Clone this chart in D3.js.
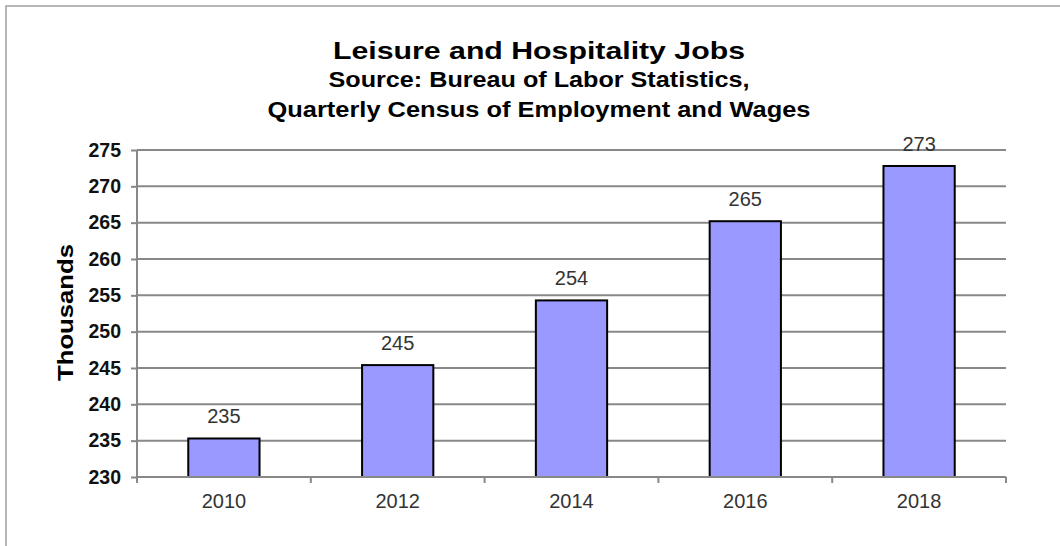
<!DOCTYPE html>
<html>
<head>
<meta charset="utf-8">
<script src="https://cdn.jsdelivr.net/npm/d3@7"></script>
<style>
  body { margin: 0; background: #fff; }
  svg { font-family: "Liberation Sans", Arial, sans-serif; }
</style>
</head>
<body>
<div id="chart"></div>
<script>
var years = ["2010", "2012", "2014", "2016", "2018"];
var jobs = [235.3, 245.4, 254.3, 265.2, 272.8];
var jobLabels = ["235", "245", "254", "265", "273"];
var yTicks = [230, 235, 240, 245, 250, 255, 260, 265, 270, 275];

var W = 1060, H = 546;
var margin = {top: 150, right: 54, bottom: 69, left: 137},
    width = W - margin.left - margin.right,
    height = H - margin.top - margin.bottom;

var svg = d3.select("#chart").append("svg")
    .attr("width", W)
    .attr("height", H);

// outer frame (only top and left visible in the picture)
svg.append("rect")
    .attr("x", 6).attr("y", 6)
    .attr("width", W + 20).attr("height", H + 20)
    .attr("fill", "none")
    .attr("stroke", "#a0a0a0")
    .attr("stroke-width", 1.5);

var x = d3.scaleBand()
    .domain(years)
    .range([0, width])
    .paddingInner(0.59)
    .paddingOuter(0.295);

var y = d3.scaleLinear()
    .domain([230, 275])
    .range([height, 0]);

var g = svg.append("g").attr("transform", "translate(" + margin.left + "," + margin.top + ")");

// gridlines
g.append("g")
  .selectAll("line")
  .data(yTicks)
  .enter().append("line")
    .attr("x1", 0).attr("x2", width)
    .attr("y1", function(d) { return y(d); })
    .attr("y2", function(d) { return y(d); })
    .attr("stroke", "#888")
    .attr("stroke-width", 2);

// bars
g.append("g")
  .selectAll("rect")
  .data(jobs)
  .enter().append("rect")
    .attr("x", function(d, i) { return x(years[i]); })
    .attr("y", function(d) { return y(d); })
    .attr("width", x.bandwidth())
    .attr("height", function(d) { return y(230) - y(d); })
    .attr("fill", "#9999ff")
    .attr("stroke", "#000")
    .attr("stroke-width", 2);

// value labels
g.append("g")
  .selectAll("text")
  .data(jobs)
  .enter().append("text")
    .attr("x", function(d, i) { return x(years[i]) + x.bandwidth() / 2; })
    .attr("y", function(d) { return y(d) - 15; })
    .attr("text-anchor", "middle")
    .attr("font-size", 20)
    .attr("fill", "#333")
    .text(function(d, i) { return jobLabels[i]; });

// y axis
var yAxis = g.append("g")
    .call(d3.axisLeft(y).tickValues(yTicks).tickSize(6).tickPadding(10));
yAxis.selectAll("text")
    .attr("font-size", 19.5)
    .attr("font-weight", "bold")
    .attr("fill", "#111");
yAxis.select(".domain").attr("stroke", "#888").attr("stroke-width", 2).attr("d", "M0,0V" + height);
yAxis.selectAll(".tick line").attr("stroke", "#888").attr("stroke-width", 2);

// x axis, ticks between categories
var bandStep = x.step();
var xAxis = g.append("g").attr("transform", "translate(0," + height + ")");
xAxis.append("line")
    .attr("x1", 0).attr("x2", width)
    .attr("stroke", "#888").attr("stroke-width", 2);
xAxis.selectAll(".sep")
  .data(d3.range(years.length + 1))
  .enter().append("line")
    .attr("x1", function(i) { return i * bandStep; })
    .attr("x2", function(i) { return i * bandStep; })
    .attr("y1", 0).attr("y2", 6)
    .attr("stroke", "#888").attr("stroke-width", 2);
xAxis.selectAll("text")
  .data(years)
  .enter().append("text")
    .attr("x", function(d) { return x(d) + x.bandwidth() / 2; })
    .attr("y", 31)
    .attr("text-anchor", "middle")
    .attr("font-size", 20)
    .attr("fill", "#333")
    .text(function(d) { return d; });

// y axis title
svg.append("text")
    .attr("transform", "translate(73," + (margin.top + height / 2 - 1) + ") rotate(-90)")
    .attr("text-anchor", "middle")
    .attr("font-size", 22)
    .attr("font-weight", "bold")
    .attr("textLength", 137)
    .attr("lengthAdjust", "spacingAndGlyphs")
    .text("Thousands");

// titles (the reference glyphs are a bit wide, so fit them to measured widths)
var titles = [
  {t: "Leisure and Hospitality Jobs", y: 59, s: 24, w: 412},
  {t: "Source: Bureau of Labor Statistics,", y: 87, s: 22, w: 421},
  {t: "Quarterly Census of Employment and Wages", y: 117, s: 22, w: 543}
];
svg.selectAll(".title")
  .data(titles)
  .enter().append("text")
    .attr("class", "title")
    .attr("x", function(d) { return 539 - d.w / 2; })
    .attr("y", function(d) { return d.y; })
    .attr("font-size", function(d) { return d.s; })
    .attr("font-weight", "bold")
    .attr("textLength", function(d) { return d.w; })
    .attr("lengthAdjust", "spacingAndGlyphs")
    .text(function(d) { return d.t; });
</script>
</body>
</html>
